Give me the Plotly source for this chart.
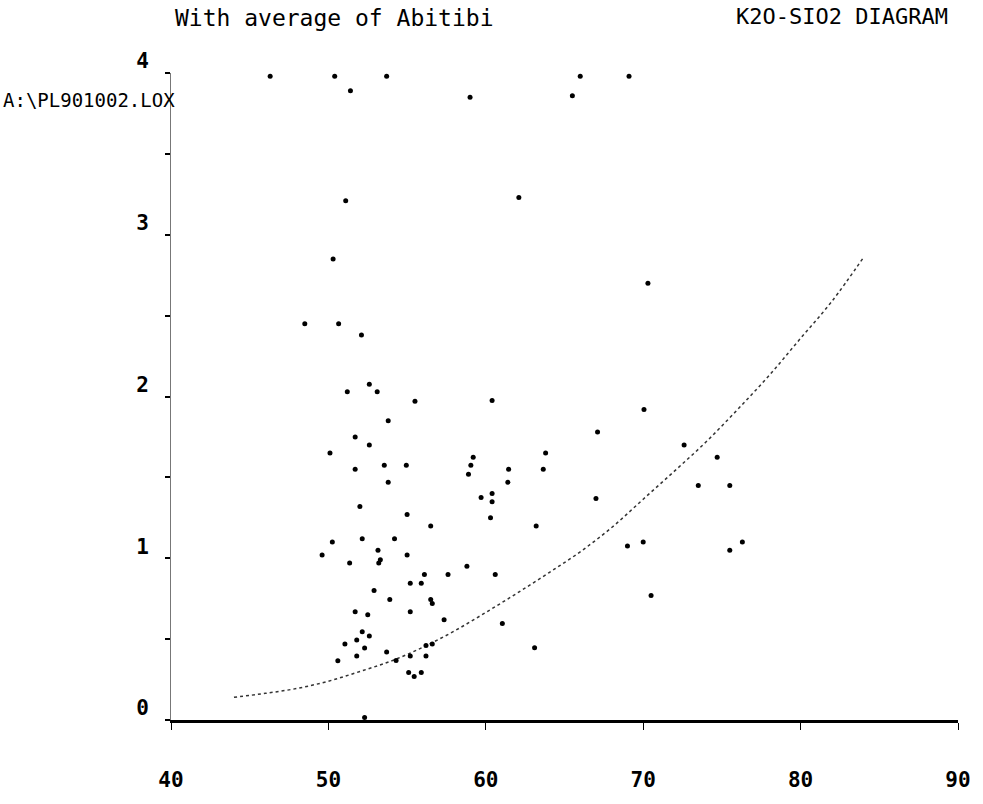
import plotly.graph_objects as go

# SiO2 (x) and K2O (y) sample values
sio2 = [46.3, 50.4, 53.7, 51.4, 59.0, 66.0, 69.1, 65.5,
        51.1, 62.1, 50.3, 48.5, 50.65, 52.1, 52.6, 51.2, 53.1, 55.5, 60.4, 53.8,
        70.3, 70.05,
        51.7, 52.6, 50.1, 59.2, 63.8, 51.7, 53.55, 54.95, 59.05, 58.9, 61.45, 63.65,
        53.8, 61.4, 60.4, 59.7, 60.4, 52.0, 55.0, 60.3, 56.5, 63.2,
        50.25, 52.15, 54.2, 49.6, 53.15, 55.0, 51.35, 53.3, 53.2, 58.8,
        56.1, 57.6, 60.6, 55.2, 55.9, 52.9, 53.9, 56.5, 56.6, 51.7, 52.5, 55.2,
        57.35, 61.05, 52.15, 52.6, 51.8, 51.05, 52.3, 51.8, 53.7, 50.6, 54.3, 55.2,
        56.2, 56.2, 56.6, 55.1, 55.45, 55.9, 63.1, 52.3,
        67.1, 72.6, 74.7, 73.5, 75.5, 67.0, 69.0, 70.0, 75.5, 76.3, 70.5]
k2o = [3.98, 3.98, 3.98, 3.89, 3.85, 3.98, 3.98, 3.86,
       3.21, 3.23, 2.85, 2.45, 2.45, 2.38, 2.075, 2.03, 2.03, 1.97, 1.975, 1.85,
       2.70, 1.92,
       1.75, 1.70, 1.65, 1.625, 1.65, 1.55, 1.575, 1.575, 1.575, 1.52, 1.55, 1.55,
       1.47, 1.47, 1.40, 1.375, 1.35, 1.32, 1.27, 1.25, 1.20, 1.20,
       1.10, 1.12, 1.12, 1.02, 1.05, 1.02, 0.97, 0.99, 0.97, 0.95,
       0.90, 0.90, 0.90, 0.845, 0.845, 0.80, 0.745, 0.745, 0.72, 0.67, 0.65, 0.67,
       0.62, 0.597, 0.545, 0.52, 0.495, 0.47, 0.445, 0.395, 0.42, 0.367, 0.368, 0.395,
       0.395, 0.46, 0.47, 0.293, 0.269, 0.293, 0.446, 0.016,
       1.78, 1.70, 1.625, 1.45, 1.45, 1.37, 1.075, 1.10, 1.05, 1.10, 0.77]

# "Average of Abitibi" reference curve
avg_sio2 = [44, 46, 48, 50, 52, 54, 56, 58, 60, 62, 64, 66, 68, 70, 72, 74, 76, 78, 80, 82, 84]
avg_k2o = [0.14, 0.165, 0.195, 0.24, 0.30, 0.365, 0.45, 0.55, 0.665, 0.785, 0.91,
           1.04, 1.19, 1.365, 1.54, 1.72, 1.92, 2.13, 2.36, 2.59, 2.86]

y_tickvals = [0, 0.5, 1, 1.5, 2, 2.5, 3, 3.5, 4]
y_ticktext = ["0", "", "1", "", "2", "", "3", "", "4"]
x_tickvals = [40, 50, 60, 70, 80, 90]
x_ticktext = ["40", "50", "60", "70", "80", "90"]

MONO = "DejaVu Sans Mono"

fig = go.Figure()
fig.add_trace(go.Scatter(
    x=avg_sio2, y=avg_k2o, mode="lines", line_shape="spline",
    line=dict(color="#333333", width=1.5, dash="dot"),
    hoverinfo="skip", showlegend=False))
fig.add_trace(go.Scatter(
    x=sio2, y=k2o, mode="markers",
    marker=dict(color="black", size=5, symbol="circle"),
    showlegend=False, cliponaxis=False))

L, R, T, B = 171, 21, 73, 76
W, H = 983, 804
pw = W - L - R
ph = H - T - B

def px_x(p):
    return (p - L) / pw

def px_y(p):
    return (H - B - p) / ph

fig.update_layout(
    width=W, height=H,
    margin=dict(l=L, r=R, t=T, b=B),
    plot_bgcolor="white", paper_bgcolor="white",
    font=dict(family=MONO, color="black"),
    xaxis=dict(range=[40, 90], tickvals=x_tickvals, ticktext=x_ticktext,
               showgrid=False, zeroline=False, showline=True,
               linecolor="black", linewidth=3, ticks="outside", ticklen=7,
               tickcolor="black", tickwidth=1,
               tickfont=dict(family=MONO, size=21, weight="bold"),
               ticklabelstandoff=32),
    yaxis=dict(range=[0, 4], tickvals=y_tickvals, ticktext=y_ticktext,
               showgrid=False, zeroline=False, showline=True,
               linecolor="#777777", linewidth=1, ticks="outside", ticklen=5,
               tickcolor="black", tickwidth=2,
               tickfont=dict(family=MONO, size=21, weight="bold"),
               ticklabelshift=-12, ticklabelstandoff=12),
    annotations=[
        dict(text="With average of Abitibi", xref="paper", yref="paper",
             x=px_x(173), y=px_y(17), xanchor="left", yanchor="middle",
             showarrow=False, font=dict(family=MONO, size=23, color="black")),
        dict(text="K2O-SIO2 DIAGRAM", xref="paper", yref="paper",
             x=px_x(845), y=px_y(16), xanchor="center", yanchor="middle",
             showarrow=False, font=dict(family=MONO, size=22, color="black")),
        dict(text="A:\\PL901002.LOX", xref="paper", yref="paper",
             x=px_x(0), y=px_y(100), xanchor="left", yanchor="middle",
             showarrow=False, font=dict(family=MONO, size=19, color="black")),
    ],
)

fig.write_html("out.html")
